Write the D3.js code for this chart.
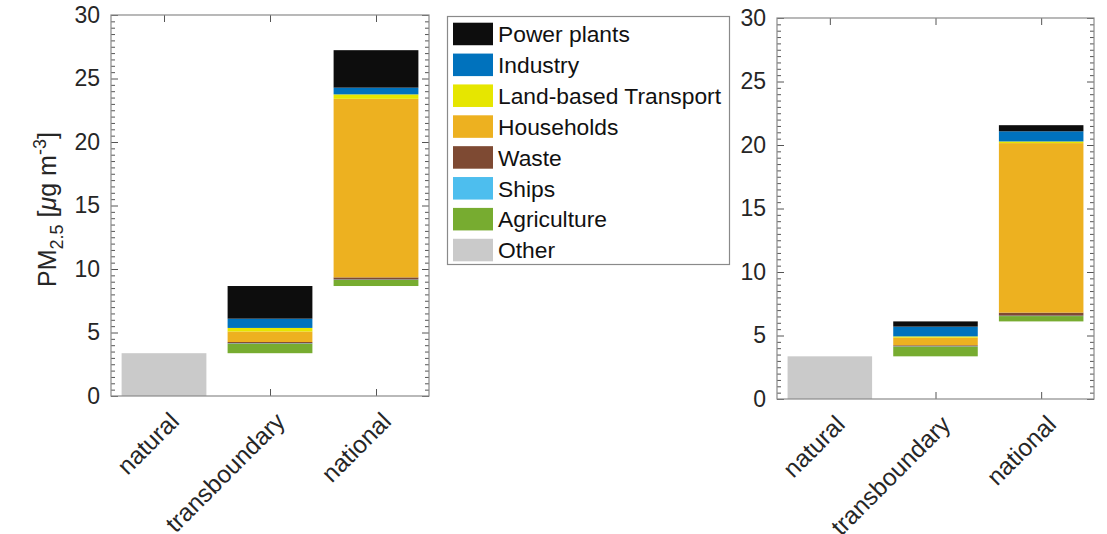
<!DOCTYPE html>
<html>
<head>
<meta charset="utf-8">
<script src="https://cdn.jsdelivr.net/npm/d3@7"></script>
<style>
  body { margin: 0; background: #fff; }
  text { font-family: "Liberation Sans", Arial, sans-serif; }
</style>
</head>
<body>
<div id="chart"></div>
<script>
// source categories (x axis) and emission sectors (legend order, top to bottom)
const categories = ["natural", "transboundary", "national"]
const sectors = ["Power plants", "Industry", "Land-based Transport", "Households", "Waste", "Ships", "Agriculture", "Other"]
const sectorColors = ["#0d0d0d", "#0072bd", "#e6e600", "#edb120", "#7e4a33", "#4dbeee", "#77ac30", "#cacaca"]

// contributions per category, in sector order (ug/m3)
const leftNatural       = [0, 0, 0, 0, 0, 0, 0, 3.37]
const leftTransboundary = [2.57, 0.73, 0.28, 0.83, 0.10, 0.03, 0.75, 0]
const leftNational      = [2.95, 0.53, 0.35, 14.06, 0.17, 0.03, 0.48, 0]

const rightNatural       = [0, 0, 0, 0, 0, 0, 0, 3.36]
const rightTransboundary = [0.41, 0.77, 0.10, 0.60, 0.08, 0.02, 0.77, 0]
const rightNational      = [0.48, 0.80, 0.13, 13.35, 0.24, 0.03, 0.42, 0]

const yTicks = [0, 5, 10, 15, 20, 25, 30]

const width = 1107
const height = 534

const svg = d3.select("#chart")
	.append("svg")
	.attr("width", width)
	.attr("height", height)

svg.append("rect").attr("width", width).attr("height", height).attr("fill", "#fff")

function drawPanel(values, box, showYLabel) {
	const x = d3.scaleLinear().domain([0.5, 3.5]).range([box.left, box.right])
	const y = d3.scaleLinear().domain([0, 30]).range([box.bottom, box.top])
	const minor = d3.range(0, 30.01, 0.5).filter(v => v % 5 !== 0)

	const g = svg.append("g")

	// ticks (drawn below bars)
	const yAxis = g.append("g")
		.attr("transform", `translate(${box.left},0)`)
		.call(d3.axisLeft(y).tickValues(yTicks).tickSize(-7).tickPadding(11))
	yAxis.selectAll("text").attr("font-size", 23).attr("fill", "#262626")
		.style("font-family", "'Liberation Sans', Arial, sans-serif")

	g.append("g").attr("transform", `translate(${box.left},0)`)
		.call(d3.axisLeft(y).tickValues(minor).tickSize(-4).tickFormat(""))
	g.append("g").attr("transform", `translate(${box.right},0)`)
		.call(d3.axisRight(y).tickValues(yTicks).tickSize(-7).tickFormat(""))
	g.append("g").attr("transform", `translate(${box.right},0)`)
		.call(d3.axisRight(y).tickValues(minor).tickSize(-4).tickFormat(""))

	const xAxis = g.append("g")
		.attr("transform", `translate(0,${box.bottom})`)
		.call(d3.axisBottom(x).tickValues([1, 2, 3]).tickSize(-7).tickFormat((d, i) => categories[i]))
	xAxis.selectAll("text")
		.attr("font-size", 24.5)
		.attr("fill", "#262626")
		.style("font-family", "'Liberation Sans', Arial, sans-serif")
		.attr("text-anchor", "end")
		.attr("y", 0)
		.attr("dy", 0)
		.attr("transform", "translate(16,27) rotate(-45)")

	g.append("g").attr("transform", `translate(0,${box.top})`)
		.call(d3.axisTop(x).tickValues([1, 2, 3]).tickSize(-7).tickFormat(""))

	g.selectAll(".domain").remove()
	g.selectAll(".tick line").attr("stroke", "#555")

	// floating stacked bars: each category starts where the previous one ended
	let base = 0
	values.forEach((vals, ci) => {
		let y0 = base
		// stack from the bottom of the legend (Other) to the top (Power plants)
		for (let s = sectors.length - 1; s >= 0; s--) {
			const v = vals[s]
			if (v <= 0) continue
			g.append("rect")
				.attr("x", x(ci + 1 - 0.4))
				.attr("width", x(ci + 1 + 0.4) - x(ci + 1 - 0.4))
				.attr("y", y(y0 + v))
				.attr("height", y(y0) - y(y0 + v))
				.attr("fill", sectorColors[s])
			y0 += v
		}
		base = y0
	})

	// axes frame
	g.append("rect")
		.attr("x", box.left)
		.attr("y", box.top)
		.attr("width", box.right - box.left)
		.attr("height", box.bottom - box.top)
		.attr("fill", "none")
		.attr("stroke", "#8a8a8a")
		.attr("stroke-width", 1.2)

	if (showYLabel) {
		const label = svg.append("text")
			.attr("transform", `translate(56,${(box.top + box.bottom) / 2 + 4}) rotate(-90)`)
			.attr("text-anchor", "middle")
			.attr("font-size", 25)
			.attr("fill", "#262626")
		label.append("tspan").text("PM")
		label.append("tspan").attr("font-size", 18).attr("dy", 7).text("2.5")
		label.append("tspan").attr("dy", -7).text(" [")
		label.append("tspan").attr("font-style", "italic").text("\u03bc")
		label.append("tspan").text("g m")
		label.append("tspan").attr("font-size", 18).attr("dy", -10).text("-3")
		label.append("tspan").attr("dy", 10).text("]")
	}
}

drawPanel([leftNatural, leftTransboundary, leftNational], {left: 111, right: 429, top: 15, bottom: 396}, true)
drawPanel([rightNatural, rightTransboundary, rightNational], {left: 777, right: 1094, top: 18, bottom: 399}, false)

// legend
const legend = svg.append("g")
legend.append("rect")
	.attr("x", 447.5).attr("y", 16.5)
	.attr("width", 282).attr("height", 248)
	.attr("fill", "#fff")
	.attr("stroke", "#8a8a8a")
	.attr("stroke-width", 1.2)

const rowScale = d3.scaleBand().domain(sectors).range([19, 265]).paddingInner(0.27).paddingOuter(0.12)

sectors.forEach((name, i) => {
	legend.append("rect")
		.attr("x", 453)
		.attr("y", rowScale(name))
		.attr("width", 40)
		.attr("height", rowScale.bandwidth())
		.attr("fill", sectorColors[i])
	legend.append("text")
		.attr("x", 498)
		.attr("y", rowScale(name) + rowScale.bandwidth() / 2)
		.attr("dy", "0.36em")
		.attr("font-size", 22.8)
		.attr("fill", "#111")
		.text(name)
})
</script>
</body>
</html>
